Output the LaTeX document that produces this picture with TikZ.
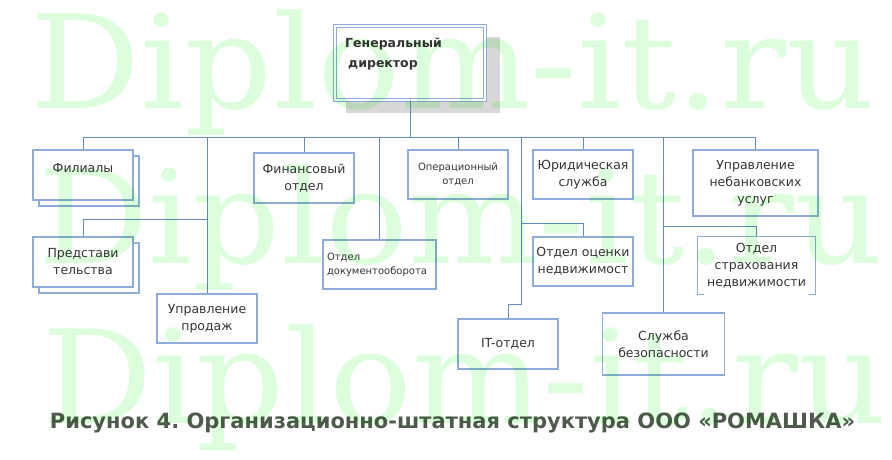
\documentclass[tikz,border=0pt]{standalone}
\usepackage{fontspec}
\setmainfont{DejaVu Sans}
\newfontfamily\wmfont{DejaVu Serif}
\usetikzlibrary{shadows}
\frenchspacing

\definecolor{boxblue}{RGB}{141,172,218}
\definecolor{lineblue}{RGB}{98,138,198}
\definecolor{txtgray}{RGB}{52,52,52}
\definecolor{wmgreen}{RGB}{220,254,220}
\definecolor{capgreen}{RGB}{78,90,76}
\definecolor{shadegray}{RGB}{216,216,216}

\tikzset{
  unit/.style={draw=boxblue, line width=1.2pt, minimum width=100pt, minimum height=50pt,
    align=center, text=txtgray, inner sep=2pt, font=\fontsize{12.5}{17}\selectfont},
  smallunit/.style={unit, font=\fontsize{10}{14}\selectfont},
  stacked/.style={unit, fill=white, copy shadow={shadow xshift=6pt, shadow yshift=-6pt}},
  link/.style={draw=lineblue, line width=1pt}
}

\begin{document}
\begin{tikzpicture}[x=1pt,y=-1pt]
    \useasboundingbox (0,0) rectangle (892,460);

    % Director box with its shadow
    \fill[shadegray] (346,37) rectangle (500,113);
    \node[draw=boxblue, fill=white, double=white, double distance=1.5pt, line width=0.9pt,
          minimum width=150pt, minimum height=74pt] (dir) at (410,63) {};
    \node[anchor=north west, align=left, inner sep=0pt, text=txtgray,
          font=\bfseries\fontsize{12.5}{20}\selectfont] (dirtext) at (345,38)
          {Генеральный\\\hspace*{3pt}директор};

    % Departments
    \node[stacked, text height=9pt, text depth=14pt] (fil) at (83,175) {Филиалы};
    \node[stacked] (pred) at (83,262) {Представи\\тельства};
    \node[unit, minimum height=49pt] (prod) at (207,318.5) {Управление\\продаж};
    \node[unit] (fin) at (304,178) {Финансовый\\отдел};
    \node[smallunit, minimum width=113pt, minimum height=49pt, text width=105pt, align=left]
          (doc) at (379.5,264.5) {Отдел\\документооборота};
    \node[smallunit, minimum height=49pt] (oper) at (458,174.5) {Операционный\\отдел};
    \node[unit, minimum height=49pt] (jur) at (583,174.5) {Юридическая\\служба};
    \node[unit, minimum height=49pt] (ocen) at (583,261.5) {Отдел оценки\\недвижимост};
    \node[unit] (it) at (508,344) {IT-отдел};
    \node[unit, minimum width=125pt, minimum height=66pt] (nebank) at (755.5,183)
          {Управление\\небанковских\\услуг};
    \node[unit, draw=none, minimum width=117pt, minimum height=57pt] (strah) at (756.5,265.5)
          {Отдел\\страхования\\недвижимости};
    \node[unit, minimum width=122pt, minimum height=62pt] (sec) at (663.5,344)
          {Служба\\безопасности};

    % open bottom edge of the insurance box
    \draw[boxblue, line width=1.2pt] ([xshift=7pt]strah.south west) -- (strah.south west)
        -- (strah.north west) -- (strah.north east) -- (strah.south east) -- ++(-7,0);

    % Bus and links
    \coordinate (bus) at (410,137);
    \coordinate (itbus) at (521,137);
    \draw[link] (dir.south) -- (bus);
    \draw[link] (fil.north) -- (fil.north |- bus) -| (nebank.north);
    \foreach \n in {fin, oper, jur, prod, doc, sec}
        \draw[link] (\n.north) -- (\n.north |- bus);
    \draw[link] (pred.north) -- ++(0,-17) -| (prod.north |- bus);
    \draw[link] (it.north) -- ++(0,-14) -| (itbus);
    \draw[link] (ocen.north) -- ++(0,-13) -| (itbus);
    \draw[link] (strah.north) -- ++(0,-10) -| (sec.north |- bus);

    % Caption
    \node[anchor=base, inner sep=0pt, text=capgreen, font=\bfseries\fontsize{21}{24}\selectfont]
          (caption) at (452.5,428) {Рисунок 4. Организационно-штатная структура ООО «РОМАШКА»};

    % Watermark
    \begin{scope}[blend mode=multiply]
        \foreach \n/\x/\y in {1/30/108, 2/38/263, 3/42/423}
            \node[anchor=base west, inner sep=0pt, text=wmgreen,
                  font=\wmfont\fontsize{130}{130}\selectfont] (wm\n) at (\x,\y)
                  {\scalebox{1.06}[1]{Diplom-it.ru}};
    \end{scope}
\end{tikzpicture}
\end{document}
